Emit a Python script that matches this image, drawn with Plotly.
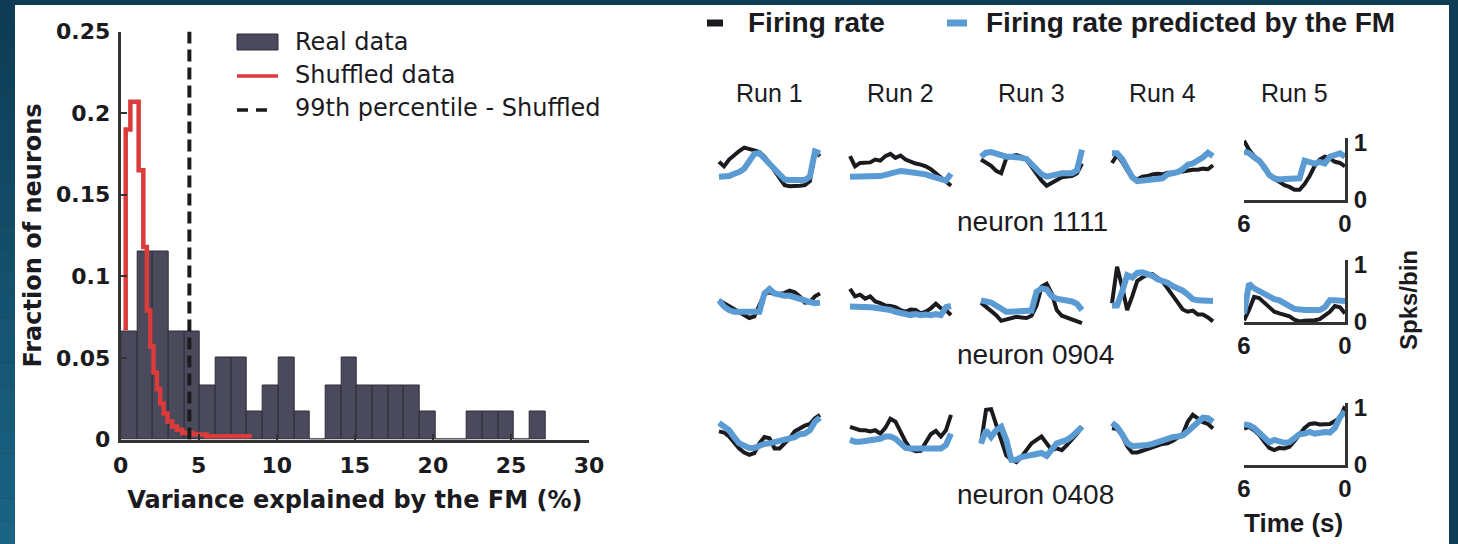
import plotly.graph_objects as go

W, H = 1458, 544

# ---------------- histogram: variance explained by the FM ----------------
bin_edges = [0.05, 1.06, 2.06, 3.07, 4.07, 5.08, 6.09, 7.09, 8.10, 9.10, 10.11,
             11.12, 12.12, 13.13, 14.13, 15.14, 16.15, 17.15, 18.16, 19.16,
             20.17, 21.18, 22.18, 23.19, 24.19, 25.20, 26.21, 27.21]
real_frac = [0.066, 0.115, 0.115, 0.066, 0.066, 0.033, 0.050, 0.050, 0.017,
             0.033, 0.050, 0.017, 0.0, 0.033, 0.050, 0.033, 0.033, 0.033,
             0.033, 0.017, 0.0, 0.0, 0.017, 0.017, 0.017, 0.0, 0.017]

shuffled_x = [0.32, 0.32, 0.62, 1.15, 1.45, 1.68, 1.90, 2.10, 2.32, 2.53,
              2.75, 3.00, 3.30, 3.60, 3.95, 4.60, 5.50, 8.40]
shuffled_frac = [0.067, 0.190, 0.207, 0.165, 0.118, 0.079, 0.057, 0.041,
                 0.031, 0.022, 0.016, 0.011, 0.008, 0.006, 0.004, 0.003,
                 0.002, 0.002]

pct99_shuffled = 4.4

x_ticks = [0, 5, 10, 15, 20, 25, 30]
y_ticks = [0, 0.05, 0.1, 0.15, 0.2, 0.25]

# ---------------- example neurons: firing rate vs FM prediction ----------------
time_s = [6.0, 5.7, 5.4, 5.1, 4.8, 4.5, 4.2, 3.9, 3.6, 3.3, 3.0,
          2.7, 2.4, 2.1, 1.8, 1.5, 1.2, 0.9, 0.6, 0.3, 0.0]
runs = ["Run 1", "Run 2", "Run 3", "Run 4", "Run 5"]
neurons = ["neuron 1111", "neuron 0904", "neuron 0408"]

rate_1111 = [
    [0.67, 0.59, 0.71, 0.79, 0.86, 0.92, 0.90, 0.87, 0.84, 0.76, 0.64, 0.52, 0.38, 0.26, 0.24, 0.24, 0.25, 0.26, 0.33, 0.85, 0.77],
    [0.77, 0.59, 0.65, 0.65, 0.66, 0.71, 0.69, 0.77, 0.81, 0.74, 0.78, 0.71, 0.67, 0.64, 0.62, 0.59, 0.54, 0.47, 0.41, 0.33, 0.25],
    [0.71, 0.65, 0.60, 0.51, 0.47, 0.73, 0.77, 0.79, 0.76, 0.71, 0.59, 0.45, 0.34, 0.25, 0.30, 0.37, 0.40, 0.41, 0.42, 0.47, 0.64],
    [0.65, 0.79, 0.67, 0.52, 0.41, 0.36, 0.41, 0.42, 0.45, 0.46, 0.45, 0.48, 0.48, 0.50, 0.50, 0.52, 0.53, 0.53, 0.55, 0.54, 0.61],
    [1.04, 0.88, 0.77, 0.69, 0.55, 0.45, 0.37, 0.32, 0.26, 0.23, 0.18, 0.18, 0.28, 0.42, 0.60, 0.71, 0.76, 0.73, 0.67, 0.65, 0.59],
]
pred_1111 = [
    [0.41, 0.41, 0.42, 0.46, 0.49, 0.55, 0.67, 0.81, 0.82, 0.73, 0.64, 0.55, 0.44, 0.36, 0.35, 0.35, 0.35, 0.35, 0.41, 0.85, 0.82],
    [0.41, 0.41, 0.41, 0.40, 0.40, 0.41, 0.42, 0.44, 0.47, 0.49, 0.51, 0.50, 0.49, 0.47, 0.46, 0.45, 0.42, 0.40, 0.37, 0.34, 0.46],
    [0.76, 0.83, 0.84, 0.81, 0.77, 0.76, 0.76, 0.76, 0.74, 0.72, 0.64, 0.54, 0.45, 0.41, 0.42, 0.45, 0.47, 0.47, 0.47, 0.52, 0.88],
    [0.82, 0.82, 0.72, 0.57, 0.40, 0.33, 0.34, 0.35, 0.37, 0.37, 0.38, 0.45, 0.47, 0.49, 0.54, 0.62, 0.64, 0.69, 0.75, 0.83, 0.77],
    [0.85, 0.82, 0.75, 0.69, 0.58, 0.44, 0.38, 0.36, 0.37, 0.38, 0.37, 0.38, 0.69, 0.67, 0.64, 0.67, 0.64, 0.76, 0.79, 0.82, 0.76],
]
rate_0904 = [
    [0.38, 0.33, 0.27, 0.21, 0.18, 0.12, 0.07, 0.10, 0.29, 0.49, 0.52, 0.49, 0.49, 0.51, 0.55, 0.52, 0.45, 0.34, 0.35, 0.45, 0.50],
    [0.58, 0.45, 0.48, 0.41, 0.45, 0.36, 0.33, 0.29, 0.28, 0.26, 0.21, 0.18, 0.22, 0.21, 0.15, 0.18, 0.24, 0.32, 0.24, 0.21, 0.12],
    [0.34, 0.27, 0.20, 0.12, 0.02, 0.04, 0.07, 0.09, 0.08, 0.07, 0.11, 0.29, 0.62, 0.67, 0.50, 0.21, 0.11, 0.08, 0.04, 0.01, -0.02],
    [0.33, 0.97, 0.62, 0.21, 0.45, 0.72, 0.78, 0.83, 0.84, 0.78, 0.71, 0.59, 0.47, 0.35, 0.22, 0.18, 0.20, 0.13, 0.13, 0.08, 0.01],
    [0.03, 0.21, 0.44, 0.42, 0.34, 0.25, 0.18, 0.15, 0.13, 0.10, 0.04, 0.01, 0.02, 0.02, 0.03, 0.05, 0.11, 0.18, 0.28, 0.26, 0.15],
]
pred_0904 = [
    [0.38, 0.27, 0.21, 0.18, 0.18, 0.18, 0.18, 0.18, 0.18, 0.50, 0.58, 0.50, 0.47, 0.46, 0.46, 0.44, 0.41, 0.38, 0.35, 0.33, 0.34],
    [0.27, 0.27, 0.28, 0.27, 0.26, 0.25, 0.24, 0.22, 0.21, 0.18, 0.16, 0.13, 0.12, 0.14, 0.12, 0.13, 0.12, 0.14, 0.12, 0.26, 0.28],
    [0.38, 0.37, 0.34, 0.29, 0.24, 0.18, 0.18, 0.18, 0.18, 0.18, 0.20, 0.53, 0.59, 0.57, 0.45, 0.41, 0.40, 0.38, 0.36, 0.32, 0.21],
    [0.29, 0.29, 0.53, 0.82, 0.78, 0.86, 0.87, 0.84, 0.81, 0.75, 0.72, 0.69, 0.63, 0.60, 0.55, 0.48, 0.40, 0.38, 0.38, 0.38, 0.37],
    [0.15, 0.67, 0.59, 0.54, 0.48, 0.42, 0.40, 0.38, 0.34, 0.28, 0.23, 0.21, 0.21, 0.21, 0.21, 0.21, 0.26, 0.38, 0.38, 0.38, 0.37],
]
rate_0408 = [
    [0.59, 0.57, 0.50, 0.39, 0.29, 0.22, 0.18, 0.21, 0.38, 0.49, 0.47, 0.29, 0.29, 0.38, 0.47, 0.59, 0.65, 0.69, 0.72, 0.82, 0.88],
    [0.67, 0.64, 0.61, 0.61, 0.59, 0.61, 0.55, 0.65, 0.81, 0.76, 0.59, 0.41, 0.28, 0.24, 0.25, 0.41, 0.54, 0.60, 0.50, 0.61, 0.88],
    [0.38, 0.97, 0.98, 0.73, 0.44, 0.17, 0.09, 0.05, 0.14, 0.26, 0.38, 0.44, 0.50, 0.38, 0.26, 0.29, 0.26, 0.35, 0.44, 0.55, 0.67],
    [0.65, 0.63, 0.52, 0.33, 0.22, 0.22, 0.25, 0.28, 0.30, 0.34, 0.37, 0.38, 0.42, 0.48, 0.54, 0.76, 0.88, 0.82, 0.75, 0.72, 0.64],
    [0.64, 0.67, 0.61, 0.53, 0.41, 0.30, 0.26, 0.30, 0.29, 0.32, 0.42, 0.53, 0.65, 0.72, 0.73, 0.71, 0.71, 0.72, 0.77, 0.83, 1.03],
]
pred_0408 = [
    [0.74, 0.69, 0.61, 0.49, 0.38, 0.34, 0.30, 0.30, 0.35, 0.37, 0.38, 0.40, 0.42, 0.45, 0.46, 0.49, 0.54, 0.55, 0.61, 0.76, 0.83],
    [0.44, 0.41, 0.41, 0.42, 0.42, 0.44, 0.46, 0.50, 0.50, 0.46, 0.38, 0.30, 0.29, 0.29, 0.29, 0.29, 0.29, 0.29, 0.29, 0.35, 0.55],
    [0.38, 0.61, 0.49, 0.61, 0.67, 0.44, 0.09, 0.09, 0.14, 0.16, 0.17, 0.21, 0.21, 0.16, 0.29, 0.38, 0.41, 0.44, 0.50, 0.59, 0.67],
    [0.74, 0.67, 0.54, 0.39, 0.33, 0.33, 0.33, 0.35, 0.37, 0.40, 0.45, 0.47, 0.49, 0.50, 0.52, 0.59, 0.67, 0.74, 0.83, 0.82, 0.76],
    [0.71, 0.70, 0.65, 0.57, 0.50, 0.40, 0.44, 0.41, 0.39, 0.40, 0.46, 0.54, 0.55, 0.58, 0.55, 0.57, 0.58, 0.57, 0.65, 0.84, 0.94],
]
rates = [rate_1111, rate_0904, rate_0408]
preds = [pred_1111, pred_0904, pred_0408]

# ---------------- styling ----------------
BAR_FILL = "#4b4a5c"
BAR_EDGE = "#2c2b38"
RED = "#db3b3b"
INK = "#1b1b1f"
AXIS = "#333333"
BLUE = "#5b9bd3"
LEFT_FONT = "DejaVu Sans"
RIGHT_FONT = "Liberation Sans, Arial, sans-serif"


def fx(p):
    return p / W


def fy(p):
    return 1 - p / H


fig = go.Figure()

# histogram of real data
centers = [(a + b) / 2 for a, b in zip(bin_edges[:-1], bin_edges[1:])]
widths = [b - a for a, b in zip(bin_edges[:-1], bin_edges[1:])]
fig.add_trace(go.Bar(
    x=centers, y=real_frac, width=widths,
    marker=dict(color=BAR_FILL, line=dict(color=BAR_EDGE, width=1)),
    xaxis="x", yaxis="y", showlegend=False, hoverinfo="skip"))

# shuffled distribution as stairs
fig.add_trace(go.Scatter(
    x=shuffled_x, y=shuffled_frac, mode="lines", line_shape="hv",
    line=dict(color=RED, width=4.5),
    xaxis="x", yaxis="y", showlegend=False, hoverinfo="skip"))

# 99th percentile of the shuffled distribution
fig.add_trace(go.Scatter(
    x=[pct99_shuffled, pct99_shuffled], y=[0, 0.25], mode="lines",
    line=dict(color=INK, width=4, dash="12px,6px"),
    xaxis="x", yaxis="y", showlegend=False, hoverinfo="skip"))

layout = dict(
    width=W, height=H,
    margin=dict(l=0, r=0, t=0, b=0, pad=0, autoexpand=False),
    paper_bgcolor="#0f3d55",
    plot_bgcolor="rgba(0,0,0,0)",
    bargap=0,
    showlegend=False,
    xaxis=dict(
        domain=[fx(120.7), fx(589)], range=[0, 30], anchor="y",
        tickvals=x_ticks, ticks="inside", ticklen=6, tickwidth=2, tickcolor=AXIS,
        showline=True, linewidth=3, linecolor=AXIS, showgrid=False, zeroline=False,
        tickfont=dict(family=LEFT_FONT, size=22, color=INK, weight="bold"),
        ticklabelstandoff=4, automargin=False,
        title=dict(text="<b>Variance explained by the FM (%)</b>",
                   font=dict(family=LEFT_FONT, size=24, color=INK), standoff=15),
    ),
    yaxis=dict(
        domain=[fy(439.5), fy(31.5)], range=[0, 0.25], anchor="x",
        tickvals=y_ticks, ticks="inside", ticklen=6, tickwidth=2, tickcolor=AXIS,
        showline=True, linewidth=3, linecolor=AXIS, showgrid=False, zeroline=False,
        tickfont=dict(family=LEFT_FONT, size=22, color=INK, weight="bold"),
        ticklabelstandoff=3, automargin=False,
        title=dict(text="<b>Fraction of neurons</b>",
                   font=dict(family=LEFT_FONT, size=24, color=INK), standoff=8),
    ),
)

# small multiples: rows = neurons, columns = runs
col_left = [719, 850, 981, 1112, 1244]
col_width = 101
row_zero = [200, 322, 465]
unit_px = 57.0
axis_top = 1.09

ax_id = 2
for r in range(3):
    z = row_zero[r]
    for c in range(5):
        xa, ya = f"xaxis{ax_id}", f"yaxis{ax_id}"
        xr, yr = f"x{ax_id}", f"y{ax_id}"
        L = col_left[c]
        if c < 4:
            pad_x = 0.3
            px_per_s = col_width / 6.0
            layout[xa] = dict(domain=[fx(L - pad_x * px_per_s), fx(L + col_width + pad_x * px_per_s)],
                              range=[6 + pad_x, -pad_x], visible=False, anchor=yr)
            layout[ya] = dict(domain=[fy(z + 0.3 * unit_px), fy(z - 1.4 * unit_px)],
                              range=[-0.3, 1.4], visible=False, anchor=xr)
        else:
            layout[xa] = dict(domain=[fx(L), fx(L + col_width)], range=[6, 0], anchor=yr,
                              showline=True, linewidth=3, linecolor=AXIS, ticks="",
                              tickvals=[6, 0], ticktext=["6", "0"], showgrid=False,
                              zeroline=False, ticklabelstandoff=0, automargin=False,
                              tickfont=dict(family=RIGHT_FONT, size=24, color=INK, weight="bold"))
            layout[ya] = dict(domain=[fy(z), fy(z - axis_top * unit_px)], range=[0, axis_top],
                              anchor=xr, side="right", showline=True, linewidth=3,
                              linecolor=AXIS, ticks="", tickvals=[0, 1], ticktext=["0", "1"],
                              showgrid=False, zeroline=False, ticklabelstandoff=1,
                              automargin=False,
                              tickfont=dict(family=RIGHT_FONT, size=24, color=INK, weight="bold"))
        fig.add_trace(go.Scatter(x=time_s, y=rates[r][c], mode="lines",
                                 line=dict(color=INK, width=4), xaxis=xr, yaxis=yr,
                                 showlegend=False, hoverinfo="skip"))
        fig.add_trace(go.Scatter(x=time_s, y=preds[r][c], mode="lines",
                                 line=dict(color=BLUE, width=6), xaxis=xr, yaxis=yr,
                                 showlegend=False, hoverinfo="skip"))
        ax_id += 1

# frame: dark surround with a lighter lower-left, white panel inside
shapes = []
n_band = 24
for i in range(n_band):
    t = i / (n_band - 1)
    rr = int(15 + (27 - 15) * t)
    gg = int(60 + (100 - 60) * t)
    bb = int(84 + (132 - 84) * t)
    shapes.append(dict(type="rect", xref="paper", yref="paper", layer="below",
                       x0=0, x1=fx(15), y0=fy(H * (i + 1) / n_band), y1=fy(H * i / n_band),
                       fillcolor=f"rgb({rr},{gg},{bb})", line=dict(width=0)))
shapes.append(dict(type="rect", xref="paper", yref="paper", layer="below",
                   x0=fx(15), x1=fx(1449), y0=0, y1=fy(5),
                   fillcolor="white", line=dict(width=0)))

# histogram legend samples
shapes.append(dict(type="rect", xref="paper", yref="paper",
                   x0=fx(237), x1=fx(278), y0=fy(50), y1=fy(34),
                   fillcolor=BAR_FILL, line=dict(color=BAR_EDGE, width=1)))
shapes.append(dict(type="line", xref="paper", yref="paper",
                   x0=fx(237), x1=fx(278), y0=fy(76), y1=fy(76),
                   line=dict(color=RED, width=3.5)))
shapes.append(dict(type="line", xref="paper", yref="paper",
                   x0=fx(237), x1=fx(268), y0=fy(110), y1=fy(110),
                   line=dict(color=INK, width=3.5, dash="11px,8px")))

# trace legend samples
shapes.append(dict(type="line", xref="paper", yref="paper",
                   x0=fx(707), x1=fx(723), y0=fy(23), y1=fy(23),
                   line=dict(color=INK, width=7)))
shapes.append(dict(type="line", xref="paper", yref="paper",
                   x0=fx(947), x1=fx(967), y0=fy(23), y1=fy(23),
                   line=dict(color=BLUE, width=7)))
layout["shapes"] = shapes


def note(text, x, y, size, family, xanchor="center", bold=False, angle=0):
    return dict(text=f"<b>{text}</b>" if bold else text, x=fx(x), y=fy(y),
                xref="paper", yref="paper", xanchor=xanchor, yanchor="middle",
                showarrow=False, textangle=angle,
                font=dict(family=family, size=size, color=INK))


ann = [
    note("Real data", 293, 42, 24, LEFT_FONT, xanchor="left"),
    note("Shuffled data", 293, 75, 24, LEFT_FONT, xanchor="left"),
    note("99th percentile - Shuffled", 293, 108, 24, LEFT_FONT, xanchor="left"),
    note("Firing rate", 746, 23, 28, RIGHT_FONT, xanchor="left", bold=True),
    note("Firing rate predicted by the FM", 984, 23, 28, RIGHT_FONT, xanchor="left", bold=True),
    note("Spks/bin", 1408, 300, 24, RIGHT_FONT, bold=True, angle=-90),
    note("Time (s)", 1293, 523, 26, RIGHT_FONT, bold=True),
]
for c, run in enumerate(runs):
    ann.append(note(run, col_left[c] + col_width / 2, 93, 25, RIGHT_FONT))
neuron_y = [221, 354, 494]
for r, name in enumerate(neurons):
    ann.append(note(name, 955, neuron_y[r], 28, RIGHT_FONT, xanchor="left"))
layout["annotations"] = ann

fig.update_layout(**layout)
fig.write_html("out.html")
